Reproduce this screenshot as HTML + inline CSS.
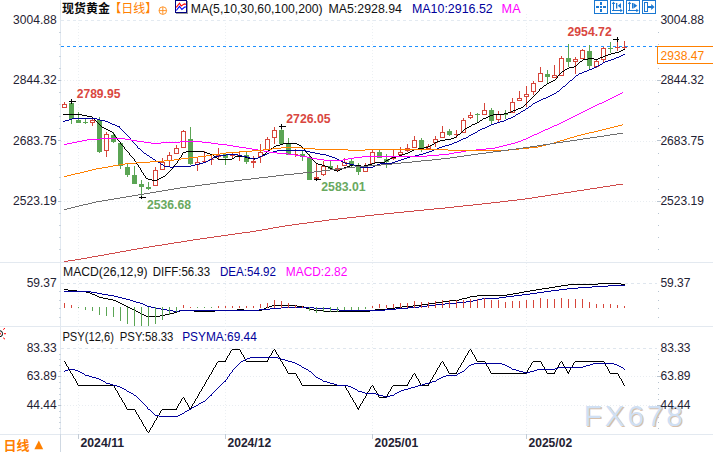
<!DOCTYPE html>
<html lang="zh"><head><meta charset="utf-8"><title>chart</title>
<style>html,body{margin:0;padding:0;background:#fff;}body{width:713px;height:452px;overflow:hidden;font-family:"Liberation Sans",sans-serif;}</style>
</head><body>
<svg width="713" height="452" viewBox="0 0 713 452" style="display:block;font-family:'Liberation Sans',sans-serif">
<rect width="713" height="452" fill="#fff"/>
<g shape-rendering="crispEdges" fill="none">
<path d="M60.5 0V434" stroke="#e1e8f0"/>
<path d="M0 262.5H713" stroke="#e3e9f0"/>
<path d="M0 326.5H713" stroke="#e3e9f0"/>
<path d="M0 434.5H713" stroke="#e3e9f0"/>
<path d="M60.5 434V452" stroke="#cfd8e2"/>
<path d="M61 20.5H657" stroke="#e3eaf1" stroke-dasharray="3 3"/>
<path d="M61 80.5H657" stroke="#e9edf1" stroke-dasharray="1 2"/>
<path d="M61 141.5H657" stroke="#e9edf1" stroke-dasharray="1 2"/>
<path d="M61 201.5H657" stroke="#e9edf1" stroke-dasharray="1 2"/>
<path d="M61 283.5H657" stroke="#dfe6ee" stroke-dasharray="3 3"/>
<path d="M61 348.5H657" stroke="#dfe6ee" stroke-dasharray="3 3"/>
<path d="M61 376.5H657" stroke="#e9edf1" stroke-dasharray="1 2"/>
<path d="M61 405.5H657" stroke="#e9edf1" stroke-dasharray="1 2"/>
<path d="M78.5 14V434" stroke="#ecf0f3" stroke-dasharray="1 2"/>
<path d="M78.5 434V439" stroke="#c3ccd6"/>
<path d="M225.5 14V434" stroke="#ecf0f3" stroke-dasharray="1 2"/>
<path d="M225.5 434V439" stroke="#c3ccd6"/>
<path d="M372.5 14V434" stroke="#ecf0f3" stroke-dasharray="1 2"/>
<path d="M372.5 434V439" stroke="#c3ccd6"/>
<path d="M526.5 14V434" stroke="#ecf0f3" stroke-dasharray="1 2"/>
<path d="M526.5 434V439" stroke="#c3ccd6"/>
<path d="M59 32.5H61" stroke="#c9d3dd"/>
<path d="M658 32.5H659" stroke="#b8c4d0"/>
<path d="M59 44.5H61" stroke="#c9d3dd"/>
<path d="M658 44.5H659" stroke="#b8c4d0"/>
<path d="M59 56.5H61" stroke="#c9d3dd"/>
<path d="M658 56.5H659" stroke="#b8c4d0"/>
<path d="M59 68.5H61" stroke="#c9d3dd"/>
<path d="M658 68.5H659" stroke="#b8c4d0"/>
<path d="M58 80.5H61" stroke="#b8c4d0"/>
<path d="M657 80.5H661" stroke="#b8c4d0"/>
<path d="M59 92.5H61" stroke="#c9d3dd"/>
<path d="M658 92.5H659" stroke="#b8c4d0"/>
<path d="M59 104.5H61" stroke="#c9d3dd"/>
<path d="M658 104.5H659" stroke="#b8c4d0"/>
<path d="M59 116.5H61" stroke="#c9d3dd"/>
<path d="M658 116.5H659" stroke="#b8c4d0"/>
<path d="M59 128.5H61" stroke="#c9d3dd"/>
<path d="M658 128.5H659" stroke="#b8c4d0"/>
<path d="M58 140.5H61" stroke="#b8c4d0"/>
<path d="M657 140.5H661" stroke="#b8c4d0"/>
<path d="M59 153.5H61" stroke="#c9d3dd"/>
<path d="M658 153.5H659" stroke="#b8c4d0"/>
<path d="M59 165.5H61" stroke="#c9d3dd"/>
<path d="M658 165.5H659" stroke="#b8c4d0"/>
<path d="M59 177.5H61" stroke="#c9d3dd"/>
<path d="M658 177.5H659" stroke="#b8c4d0"/>
<path d="M59 189.5H61" stroke="#c9d3dd"/>
<path d="M658 189.5H659" stroke="#b8c4d0"/>
<path d="M58 201.5H61" stroke="#b8c4d0"/>
<path d="M657 201.5H661" stroke="#b8c4d0"/>
<path d="M59 213.5H61" stroke="#c9d3dd"/>
<path d="M658 213.5H659" stroke="#b8c4d0"/>
<path d="M59 225.5H61" stroke="#c9d3dd"/>
<path d="M658 225.5H659" stroke="#b8c4d0"/>
<path d="M59 237.5H61" stroke="#c9d3dd"/>
<path d="M658 237.5H659" stroke="#b8c4d0"/>
<path d="M59 249.5H61" stroke="#c9d3dd"/>
<path d="M658 249.5H659" stroke="#b8c4d0"/>
<path d="M59 291.5H61" stroke="#c9d3dd"/>
<path d="M658 291.5H659" stroke="#b8c4d0"/>
<path d="M59 300.5H61" stroke="#c9d3dd"/>
<path d="M658 300.5H659" stroke="#b8c4d0"/>
<path d="M59 308.5H61" stroke="#c9d3dd"/>
<path d="M658 308.5H659" stroke="#b8c4d0"/>
<path d="M59 317.5H61" stroke="#c9d3dd"/>
<path d="M658 317.5H659" stroke="#b8c4d0"/>
<path d="M59 354.5H61" stroke="#c9d3dd"/>
<path d="M658 354.5H659" stroke="#b8c4d0"/>
<path d="M59 359.5H61" stroke="#c9d3dd"/>
<path d="M658 359.5H659" stroke="#b8c4d0"/>
<path d="M59 365.5H61" stroke="#c9d3dd"/>
<path d="M658 365.5H659" stroke="#b8c4d0"/>
<path d="M59 371.5H61" stroke="#c9d3dd"/>
<path d="M658 371.5H659" stroke="#b8c4d0"/>
<path d="M58 376.5H61" stroke="#b8c4d0"/>
<path d="M657 376.5H661" stroke="#b8c4d0"/>
<path d="M59 382.5H61" stroke="#c9d3dd"/>
<path d="M658 382.5H659" stroke="#b8c4d0"/>
<path d="M59 388.5H61" stroke="#c9d3dd"/>
<path d="M658 388.5H659" stroke="#b8c4d0"/>
<path d="M59 394.5H61" stroke="#c9d3dd"/>
<path d="M658 394.5H659" stroke="#b8c4d0"/>
<path d="M59 399.5H61" stroke="#c9d3dd"/>
<path d="M658 399.5H659" stroke="#b8c4d0"/>
<path d="M58 405.5H61" stroke="#b8c4d0"/>
<path d="M657 405.5H661" stroke="#b8c4d0"/>
<path d="M59 411.5H61" stroke="#c9d3dd"/>
<path d="M658 411.5H659" stroke="#b8c4d0"/>
<path d="M59 417.5H61" stroke="#c9d3dd"/>
<path d="M658 417.5H659" stroke="#b8c4d0"/>
<path d="M59 422.5H61" stroke="#c9d3dd"/>
<path d="M658 422.5H659" stroke="#b8c4d0"/>
<path d="M59 428.5H61" stroke="#c9d3dd"/>
<path d="M658 428.5H659" stroke="#b8c4d0"/>
</g>
<path d="M61 46.5H657" stroke="#1e90ff" stroke-dasharray="3 3" shape-rendering="crispEdges" fill="none"/>
<g shape-rendering="crispEdges">
<rect x="64" y="102" width="1" height="2" fill="#d6453a"/>
<rect x="62.5" y="104.5" width="4" height="3" fill="#fff" stroke="#d6453a"/>
<rect x="71" y="101" width="1" height="23" fill="#5ba554"/>
<rect x="69" y="103" width="5" height="16" fill="#5ba554"/>
<rect x="78" y="112" width="1" height="11" fill="#5ba554"/>
<rect x="76" y="120" width="5" height="3" fill="#5ba554"/>
<rect x="85" y="118" width="1" height="6" fill="#5ba554"/>
<rect x="83" y="122" width="5" height="1" fill="#5ba554"/>
<rect x="92" y="119" width="1" height="1" fill="#d6453a"/>
<rect x="92" y="123" width="1" height="3" fill="#d6453a"/>
<rect x="90.5" y="120.5" width="4" height="2" fill="#fff" stroke="#d6453a"/>
<rect x="99" y="117" width="1" height="36" fill="#5ba554"/>
<rect x="97" y="120" width="5" height="32" fill="#5ba554"/>
<rect x="106" y="132" width="1" height="2" fill="#d6453a"/>
<rect x="106" y="151" width="1" height="6" fill="#d6453a"/>
<rect x="104.5" y="134.5" width="4" height="16" fill="#fff" stroke="#d6453a"/>
<rect x="113" y="132" width="1" height="11" fill="#5ba554"/>
<rect x="111" y="135" width="5" height="7" fill="#5ba554"/>
<rect x="120" y="142" width="1" height="27" fill="#5ba554"/>
<rect x="118" y="143" width="5" height="23" fill="#5ba554"/>
<rect x="127" y="163" width="1" height="14" fill="#5ba554"/>
<rect x="125" y="167" width="5" height="8" fill="#5ba554"/>
<rect x="134" y="166" width="1" height="18" fill="#5ba554"/>
<rect x="132" y="175" width="5" height="9" fill="#5ba554"/>
<rect x="141" y="180" width="1" height="17" fill="#5ba554"/>
<rect x="139" y="184" width="5" height="3" fill="#5ba554"/>
<rect x="148" y="182" width="1" height="8" fill="#5ba554"/>
<rect x="146" y="187" width="5" height="2" fill="#5ba554"/>
<rect x="155" y="167" width="1" height="3" fill="#d6453a"/>
<rect x="153.5" y="170.5" width="4" height="15" fill="#fff" stroke="#d6453a"/>
<rect x="162" y="158" width="1" height="4" fill="#d6453a"/>
<rect x="160.5" y="162.5" width="4" height="7" fill="#fff" stroke="#d6453a"/>
<rect x="169" y="152" width="1" height="3" fill="#d6453a"/>
<rect x="169" y="161" width="1" height="5" fill="#d6453a"/>
<rect x="167.5" y="155.5" width="4" height="5" fill="#fff" stroke="#d6453a"/>
<rect x="176" y="145" width="1" height="3" fill="#d6453a"/>
<rect x="174.5" y="148.5" width="4" height="5" fill="#fff" stroke="#d6453a"/>
<rect x="183" y="130" width="1" height="1" fill="#d6453a"/>
<rect x="181.5" y="131.5" width="4" height="16" fill="#fff" stroke="#d6453a"/>
<rect x="190" y="127" width="1" height="38" fill="#5ba554"/>
<rect x="188" y="139" width="5" height="25" fill="#5ba554"/>
<rect x="197" y="158" width="1" height="4" fill="#d6453a"/>
<rect x="197" y="165" width="1" height="6" fill="#d6453a"/>
<rect x="195.5" y="162.5" width="4" height="2" fill="#fff" stroke="#d6453a"/>
<rect x="204" y="151" width="1" height="10" fill="#d6453a"/>
<rect x="202" y="161" width="5" height="1" fill="#d6453a"/>
<rect x="211" y="155" width="1" height="4" fill="#d6453a"/>
<rect x="211" y="160" width="1" height="5" fill="#d6453a"/>
<rect x="209" y="159" width="5" height="1" fill="#d6453a"/>
<rect x="218" y="148" width="1" height="7" fill="#d6453a"/>
<rect x="218" y="157" width="1" height="2" fill="#d6453a"/>
<rect x="216.5" y="155.5" width="4" height="1" fill="#fff" stroke="#d6453a"/>
<rect x="225" y="153" width="1" height="12" fill="#5ba554"/>
<rect x="223" y="154" width="5" height="4" fill="#5ba554"/>
<rect x="232" y="152" width="1" height="3" fill="#d6453a"/>
<rect x="232" y="156" width="1" height="2" fill="#d6453a"/>
<rect x="230" y="155" width="5" height="1" fill="#d6453a"/>
<rect x="239" y="151" width="1" height="4" fill="#d6453a"/>
<rect x="239" y="157" width="1" height="4" fill="#d6453a"/>
<rect x="237.5" y="155.5" width="4" height="1" fill="#fff" stroke="#d6453a"/>
<rect x="246" y="152" width="1" height="12" fill="#5ba554"/>
<rect x="244" y="155" width="5" height="7" fill="#5ba554"/>
<rect x="253" y="156" width="1" height="5" fill="#d6453a"/>
<rect x="253" y="163" width="1" height="5" fill="#d6453a"/>
<rect x="251.5" y="161.5" width="4" height="1" fill="#fff" stroke="#d6453a"/>
<rect x="260" y="144" width="1" height="8" fill="#d6453a"/>
<rect x="260" y="157" width="1" height="6" fill="#d6453a"/>
<rect x="258.5" y="152.5" width="4" height="4" fill="#fff" stroke="#d6453a"/>
<rect x="267" y="137" width="1" height="2" fill="#d6453a"/>
<rect x="265.5" y="139.5" width="4" height="10" fill="#fff" stroke="#d6453a"/>
<rect x="274" y="127" width="1" height="3" fill="#d6453a"/>
<rect x="274" y="138" width="1" height="6" fill="#d6453a"/>
<rect x="272.5" y="130.5" width="4" height="7" fill="#fff" stroke="#d6453a"/>
<rect x="281" y="126" width="1" height="18" fill="#5ba554"/>
<rect x="279" y="130" width="5" height="14" fill="#5ba554"/>
<rect x="288" y="138" width="1" height="17" fill="#5ba554"/>
<rect x="286" y="144" width="5" height="11" fill="#5ba554"/>
<rect x="295" y="149" width="1" height="5" fill="#d6453a"/>
<rect x="295" y="155" width="1" height="2" fill="#d6453a"/>
<rect x="293" y="154" width="5" height="1" fill="#d6453a"/>
<rect x="302" y="150" width="1" height="11" fill="#5ba554"/>
<rect x="300" y="154" width="5" height="3" fill="#5ba554"/>
<rect x="309" y="154" width="1" height="26" fill="#5ba554"/>
<rect x="307" y="157" width="5" height="23" fill="#5ba554"/>
<rect x="316" y="164" width="1" height="13" fill="#d6453a"/>
<rect x="316" y="179" width="1" height="1" fill="#d6453a"/>
<rect x="314.5" y="177.5" width="4" height="1" fill="#fff" stroke="#d6453a"/>
<rect x="323" y="161" width="1" height="5" fill="#d6453a"/>
<rect x="323" y="175" width="1" height="1" fill="#d6453a"/>
<rect x="321.5" y="166.5" width="4" height="8" fill="#fff" stroke="#d6453a"/>
<rect x="330" y="161" width="1" height="8" fill="#5ba554"/>
<rect x="328" y="166" width="5" height="3" fill="#5ba554"/>
<rect x="337" y="165" width="1" height="3" fill="#d6453a"/>
<rect x="337" y="170" width="1" height="1" fill="#d6453a"/>
<rect x="335.5" y="168.5" width="4" height="1" fill="#fff" stroke="#d6453a"/>
<rect x="344" y="158" width="1" height="4" fill="#d6453a"/>
<rect x="342.5" y="162.5" width="4" height="3" fill="#fff" stroke="#d6453a"/>
<rect x="351" y="159" width="1" height="9" fill="#5ba554"/>
<rect x="349" y="161" width="5" height="5" fill="#5ba554"/>
<rect x="358" y="163" width="1" height="12" fill="#5ba554"/>
<rect x="356" y="166" width="5" height="6" fill="#5ba554"/>
<rect x="365" y="163" width="1" height="3" fill="#d6453a"/>
<rect x="363.5" y="166.5" width="4" height="5" fill="#fff" stroke="#d6453a"/>
<rect x="372" y="150" width="1" height="2" fill="#d6453a"/>
<rect x="370.5" y="152.5" width="4" height="11" fill="#fff" stroke="#d6453a"/>
<rect x="379" y="149" width="1" height="9" fill="#5ba554"/>
<rect x="377" y="152" width="5" height="6" fill="#5ba554"/>
<rect x="386" y="154" width="1" height="14" fill="#5ba554"/>
<rect x="384" y="159" width="5" height="3" fill="#5ba554"/>
<rect x="393" y="149" width="1" height="8" fill="#d6453a"/>
<rect x="393" y="159" width="1" height="1" fill="#d6453a"/>
<rect x="391.5" y="157.5" width="4" height="1" fill="#fff" stroke="#d6453a"/>
<rect x="400" y="147" width="1" height="5" fill="#d6453a"/>
<rect x="398.5" y="152.5" width="4" height="2" fill="#fff" stroke="#d6453a"/>
<rect x="407" y="144" width="1" height="4" fill="#d6453a"/>
<rect x="407" y="151" width="1" height="1" fill="#d6453a"/>
<rect x="405.5" y="148.5" width="4" height="2" fill="#fff" stroke="#d6453a"/>
<rect x="414" y="136" width="1" height="4" fill="#d6453a"/>
<rect x="412.5" y="140.5" width="4" height="7" fill="#fff" stroke="#d6453a"/>
<rect x="421" y="138" width="1" height="14" fill="#5ba554"/>
<rect x="419" y="140" width="5" height="8" fill="#5ba554"/>
<rect x="428" y="144" width="1" height="2" fill="#d6453a"/>
<rect x="426.5" y="146.5" width="4" height="2" fill="#fff" stroke="#d6453a"/>
<rect x="435" y="136" width="1" height="3" fill="#d6453a"/>
<rect x="435" y="143" width="1" height="4" fill="#d6453a"/>
<rect x="433.5" y="139.5" width="4" height="3" fill="#fff" stroke="#d6453a"/>
<rect x="442" y="126" width="1" height="6" fill="#d6453a"/>
<rect x="440.5" y="132.5" width="4" height="5" fill="#fff" stroke="#d6453a"/>
<rect x="449" y="129" width="1" height="7" fill="#5ba554"/>
<rect x="447" y="131" width="5" height="4" fill="#5ba554"/>
<rect x="456" y="130" width="1" height="4" fill="#d6453a"/>
<rect x="456" y="135" width="1" height="3" fill="#d6453a"/>
<rect x="454" y="134" width="5" height="1" fill="#d6453a"/>
<rect x="463" y="118" width="1" height="2" fill="#d6453a"/>
<rect x="461.5" y="120.5" width="4" height="12" fill="#fff" stroke="#d6453a"/>
<rect x="470" y="112" width="1" height="3" fill="#d6453a"/>
<rect x="470" y="118" width="1" height="1" fill="#d6453a"/>
<rect x="468.5" y="115.5" width="4" height="2" fill="#fff" stroke="#d6453a"/>
<rect x="477" y="113" width="1" height="9" fill="#5ba554"/>
<rect x="475" y="114" width="5" height="1" fill="#5ba554"/>
<rect x="484" y="103" width="1" height="7" fill="#d6453a"/>
<rect x="482.5" y="110.5" width="4" height="4" fill="#fff" stroke="#d6453a"/>
<rect x="491" y="108" width="1" height="16" fill="#5ba554"/>
<rect x="489" y="110" width="5" height="11" fill="#5ba554"/>
<rect x="498" y="111" width="1" height="3" fill="#d6453a"/>
<rect x="498" y="120" width="1" height="2" fill="#d6453a"/>
<rect x="496.5" y="114.5" width="4" height="5" fill="#fff" stroke="#d6453a"/>
<rect x="505" y="110" width="1" height="9" fill="#5ba554"/>
<rect x="503" y="114" width="5" height="1" fill="#5ba554"/>
<rect x="512" y="98" width="1" height="4" fill="#d6453a"/>
<rect x="510.5" y="102.5" width="4" height="10" fill="#fff" stroke="#d6453a"/>
<rect x="519" y="91" width="1" height="7" fill="#d6453a"/>
<rect x="517.5" y="98.5" width="4" height="2" fill="#fff" stroke="#d6453a"/>
<rect x="526" y="86" width="1" height="8" fill="#d6453a"/>
<rect x="526" y="97" width="1" height="10" fill="#d6453a"/>
<rect x="524.5" y="94.5" width="4" height="2" fill="#fff" stroke="#d6453a"/>
<rect x="533" y="81" width="1" height="2" fill="#d6453a"/>
<rect x="533" y="92" width="1" height="3" fill="#d6453a"/>
<rect x="531.5" y="83.5" width="4" height="8" fill="#fff" stroke="#d6453a"/>
<rect x="540" y="67" width="1" height="6" fill="#d6453a"/>
<rect x="538.5" y="73.5" width="4" height="8" fill="#fff" stroke="#d6453a"/>
<rect x="547" y="70" width="1" height="14" fill="#5ba554"/>
<rect x="545" y="74" width="5" height="3" fill="#5ba554"/>
<rect x="554" y="65" width="1" height="10" fill="#d6453a"/>
<rect x="552.5" y="75.5" width="4" height="2" fill="#fff" stroke="#d6453a"/>
<rect x="561" y="56" width="1" height="2" fill="#d6453a"/>
<rect x="559.5" y="58.5" width="4" height="17" fill="#fff" stroke="#d6453a"/>
<rect x="568" y="44" width="1" height="23" fill="#5ba554"/>
<rect x="566" y="58" width="5" height="4" fill="#5ba554"/>
<rect x="575" y="57" width="1" height="2" fill="#d6453a"/>
<rect x="575" y="62" width="1" height="12" fill="#d6453a"/>
<rect x="573.5" y="59.5" width="4" height="2" fill="#fff" stroke="#d6453a"/>
<rect x="582" y="49" width="1" height="1" fill="#d6453a"/>
<rect x="580.5" y="50.5" width="4" height="8" fill="#fff" stroke="#d6453a"/>
<rect x="589" y="45" width="1" height="24" fill="#5ba554"/>
<rect x="587" y="51" width="5" height="15" fill="#5ba554"/>
<rect x="596" y="60" width="1" height="1" fill="#d6453a"/>
<rect x="596" y="67" width="1" height="1" fill="#d6453a"/>
<rect x="594.5" y="61.5" width="4" height="5" fill="#fff" stroke="#d6453a"/>
<rect x="603" y="47" width="1" height="1" fill="#d6453a"/>
<rect x="603" y="60" width="1" height="2" fill="#d6453a"/>
<rect x="601.5" y="48.5" width="4" height="11" fill="#fff" stroke="#d6453a"/>
<rect x="610" y="42" width="1" height="11" fill="#5ba554"/>
<rect x="608" y="48" width="5" height="1" fill="#5ba554"/>
<rect x="617" y="39" width="1" height="8" fill="#d6453a"/>
<rect x="617" y="48" width="1" height="3" fill="#d6453a"/>
<rect x="615" y="47" width="5" height="1" fill="#d6453a"/>
<rect x="624" y="41" width="1" height="6" fill="#d6453a"/>
<rect x="624" y="48" width="1" height="2" fill="#d6453a"/>
<rect x="622" y="47" width="5" height="1" fill="#d6453a"/>
</g>
<path d="M623 49h2v1h-2zM621 50h2v1h-2zM619 51h2v1h-2zM615 52h4v1h-4zM611 53h4v1h-4zM608 54h3v1h-3zM605 55h3v1h-3zM603 56h2v1h-2zM600 57h3v1h-3zM588 58h6v1h-6zM598 58h2v1h-2zM583 59h5v1h-5zM594 59h4v1h-4zM582 60h1v1h-1zM580 61h2v1h-2zM579 62h1v1h-1zM578 63h1v1h-1zM577 64h1v1h-1zM576 65h1v1h-1zM574 66h2v1h-2zM569 67h5v1h-5zM567 68h2v1h-2zM565 69h2v1h-2zM564 70h1v1h-1zM562 71h2v1h-2zM561 72h1v1h-1zM560 73h1v1h-1zM559 74h1v1h-1zM558 75h1v1h-1zM557 76h1v1h-1zM557 77h1v1h-1zM556 78h1v1h-1zM555 79h1v1h-1zM553 80h2v1h-2zM551 81h2v1h-2zM549 82h2v1h-2zM547 83h2v1h-2zM546 84h1v1h-1zM544 85h2v1h-2zM543 86h1v1h-1zM542 87h1v1h-1zM540 88h2v1h-2zM539 89h1v1h-1zM539 90h1v1h-1zM538 91h1v1h-1zM537 92h1v1h-1zM536 93h1v1h-1zM535 94h1v1h-1zM534 95h1v1h-1zM533 96h1v1h-1zM532 97h1v1h-1zM531 98h1v1h-1zM530 99h1v1h-1zM529 100h1v1h-1zM528 101h1v1h-1zM527 102h1v1h-1zM526 103h1v1h-1zM525 104h1v1h-1zM524 105h1v1h-1zM523 106h1v1h-1zM521 107h2v1h-2zM518 108h3v1h-3zM516 109h2v1h-2zM513 110h3v1h-3zM511 111h2v1h-2zM508 112h3v1h-3zM504 113h4v1h-4zM63 114h19v1h-19zM493 114h11v1h-11zM82 115h5v1h-5zM490 115h3v1h-3zM87 116h5v1h-5zM488 116h2v1h-2zM92 117h1v1h-1zM486 117h2v1h-2zM93 118h1v1h-1zM483 118h3v1h-3zM94 119h1v1h-1zM482 119h1v1h-1zM95 120h1v1h-1zM480 120h2v1h-2zM96 121h1v1h-1zM479 121h1v1h-1zM97 122h1v1h-1zM477 122h2v1h-2zM98 123h1v1h-1zM475 123h2v1h-2zM99 124h1v1h-1zM472 124h3v1h-3zM100 125h1v1h-1zM471 125h1v1h-1zM101 126h1v1h-1zM469 126h2v1h-2zM102 127h2v1h-2zM467 127h2v1h-2zM104 128h2v1h-2zM465 128h2v1h-2zM106 129h2v1h-2zM464 129h1v1h-1zM108 130h2v1h-2zM463 130h1v1h-1zM110 131h2v1h-2zM462 131h1v1h-1zM112 132h1v1h-1zM461 132h1v1h-1zM113 133h1v1h-1zM460 133h1v1h-1zM114 134h1v1h-1zM458 134h2v1h-2zM114 135h1v1h-1zM457 135h1v1h-1zM115 136h1v1h-1zM456 136h1v1h-1zM116 137h1v1h-1zM454 137h2v1h-2zM117 138h1v1h-1zM451 138h3v1h-3zM117 139h1v1h-1zM445 139h6v1h-6zM118 140h1v1h-1zM440 140h5v1h-5zM119 141h1v1h-1zM437 141h3v1h-3zM120 142h1v1h-1zM435 142h2v1h-2zM120 143h1v1h-1zM283 143h14v1h-14zM434 143h1v1h-1zM121 144h1v1h-1zM280 144h3v1h-3zM297 144h2v1h-2zM432 144h2v1h-2zM122 145h1v1h-1zM276 145h4v1h-4zM299 145h2v1h-2zM430 145h2v1h-2zM123 146h1v1h-1zM274 146h2v1h-2zM301 146h1v1h-1zM428 146h2v1h-2zM124 147h1v1h-1zM273 147h1v1h-1zM302 147h1v1h-1zM424 147h4v1h-4zM124 148h1v1h-1zM271 148h2v1h-2zM303 148h1v1h-1zM418 148h6v1h-6zM125 149h1v1h-1zM270 149h1v1h-1zM304 149h1v1h-1zM414 149h4v1h-4zM126 150h1v1h-1zM268 150h2v1h-2zM305 150h1v1h-1zM412 150h2v1h-2zM127 151h1v1h-1zM186 151h18v1h-18zM267 151h1v1h-1zM305 151h1v1h-1zM410 151h2v1h-2zM128 152h1v1h-1zM183 152h3v1h-3zM204 152h3v1h-3zM266 152h1v1h-1zM306 152h1v1h-1zM408 152h2v1h-2zM129 153h1v1h-1zM182 153h1v1h-1zM207 153h3v1h-3zM265 153h1v1h-1zM307 153h1v1h-1zM405 153h3v1h-3zM129 154h1v1h-1zM182 154h1v1h-1zM210 154h3v1h-3zM263 154h2v1h-2zM308 154h1v1h-1zM402 154h3v1h-3zM130 155h1v1h-1zM181 155h1v1h-1zM213 155h1v1h-1zM262 155h1v1h-1zM309 155h1v1h-1zM399 155h3v1h-3zM131 156h1v1h-1zM181 156h1v1h-1zM214 156h1v1h-1zM235 156h10v1h-10zM260 156h2v1h-2zM310 156h1v1h-1zM396 156h3v1h-3zM132 157h1v1h-1zM180 157h1v1h-1zM215 157h2v1h-2zM234 157h1v1h-1zM245 157h3v1h-3zM258 157h2v1h-2zM311 157h1v1h-1zM392 157h4v1h-4zM133 158h1v1h-1zM179 158h1v1h-1zM217 158h1v1h-1zM232 158h2v1h-2zM248 158h10v1h-10zM312 158h1v1h-1zM390 158h2v1h-2zM134 159h1v1h-1zM179 159h1v1h-1zM218 159h14v1h-14zM312 159h1v1h-1zM388 159h2v1h-2zM134 160h1v1h-1zM178 160h1v1h-1zM313 160h1v1h-1zM386 160h2v1h-2zM135 161h1v1h-1zM177 161h1v1h-1zM314 161h1v1h-1zM385 161h1v1h-1zM136 162h1v1h-1zM177 162h1v1h-1zM315 162h1v1h-1zM375 162h10v1h-10zM136 163h1v1h-1zM176 163h1v1h-1zM316 163h2v1h-2zM372 163h3v1h-3zM137 164h1v1h-1zM175 164h1v1h-1zM318 164h4v1h-4zM353 164h1v1h-1zM368 164h4v1h-4zM138 165h1v1h-1zM174 165h1v1h-1zM322 165h3v1h-3zM350 165h3v1h-3zM354 165h7v1h-7zM364 165h4v1h-4zM138 166h1v1h-1zM173 166h1v1h-1zM325 166h3v1h-3zM347 166h3v1h-3zM361 166h3v1h-3zM139 167h1v1h-1zM172 167h1v1h-1zM328 167h2v1h-2zM344 167h3v1h-3zM140 168h1v1h-1zM172 168h1v1h-1zM330 168h2v1h-2zM342 168h2v1h-2zM140 169h1v1h-1zM171 169h1v1h-1zM332 169h2v1h-2zM340 169h2v1h-2zM141 170h1v1h-1zM170 170h1v1h-1zM334 170h3v1h-3zM338 170h2v1h-2zM141 171h1v1h-1zM169 171h1v1h-1zM337 171h1v1h-1zM142 172h1v1h-1zM168 172h1v1h-1zM143 173h1v1h-1zM167 173h1v1h-1zM143 174h1v1h-1zM166 174h1v1h-1zM144 175h1v1h-1zM165 175h1v1h-1zM145 176h1v1h-1zM163 176h2v1h-2zM145 177h1v1h-1zM161 177h2v1h-2zM146 178h2v1h-2zM159 178h2v1h-2zM148 179h4v1h-4zM157 179h2v1h-2zM152 180h5v1h-5z" fill="#000" shape-rendering="crispEdges"/>
<path d="M623 54h2v1h-2zM621 55h2v1h-2zM619 56h2v1h-2zM616 57h3v1h-3zM614 58h2v1h-2zM611 59h3v1h-3zM608 60h3v1h-3zM605 61h3v1h-3zM603 62h2v1h-2zM602 63h1v1h-1zM600 64h2v1h-2zM598 65h2v1h-2zM596 66h2v1h-2zM594 67h2v1h-2zM592 68h2v1h-2zM589 69h3v1h-3zM587 70h2v1h-2zM584 71h3v1h-3zM582 72h2v1h-2zM579 73h3v1h-3zM578 74h1v1h-1zM576 75h2v1h-2zM575 76h1v1h-1zM574 77h1v1h-1zM573 78h1v1h-1zM572 79h1v1h-1zM570 80h2v1h-2zM569 81h1v1h-1zM568 82h1v1h-1zM567 83h1v1h-1zM566 84h1v1h-1zM565 85h1v1h-1zM563 86h2v1h-2zM562 87h1v1h-1zM561 88h1v1h-1zM560 89h1v1h-1zM559 90h1v1h-1zM557 91h2v1h-2zM556 92h1v1h-1zM554 93h2v1h-2zM552 94h2v1h-2zM550 95h2v1h-2zM548 96h2v1h-2zM546 97h2v1h-2zM543 98h3v1h-3zM541 99h2v1h-2zM539 100h2v1h-2zM537 101h2v1h-2zM535 102h2v1h-2zM533 103h2v1h-2zM532 104h1v1h-1zM531 105h1v1h-1zM529 106h2v1h-2zM528 107h1v1h-1zM526 108h2v1h-2zM525 109h1v1h-1zM523 110h2v1h-2zM521 111h2v1h-2zM520 112h1v1h-1zM518 113h2v1h-2zM516 114h2v1h-2zM515 115h1v1h-1zM513 116h2v1h-2zM511 117h2v1h-2zM72 118h25v1h-25zM508 118h3v1h-3zM69 119h3v1h-3zM97 119h3v1h-3zM506 119h2v1h-2zM65 120h4v1h-4zM100 120h5v1h-5zM504 120h2v1h-2zM63 121h2v1h-2zM105 121h3v1h-3zM500 121h4v1h-4zM108 122h2v1h-2zM497 122h3v1h-3zM110 123h2v1h-2zM494 123h3v1h-3zM112 124h3v1h-3zM491 124h3v1h-3zM115 125h2v1h-2zM489 125h2v1h-2zM117 126h3v1h-3zM487 126h2v1h-2zM119 127h1v1h-1zM485 127h2v1h-2zM120 128h1v1h-1zM482 128h3v1h-3zM121 129h1v1h-1zM480 129h2v1h-2zM122 130h1v1h-1zM478 130h2v1h-2zM123 131h1v1h-1zM477 131h1v1h-1zM124 132h1v1h-1zM475 132h2v1h-2zM125 133h1v1h-1zM473 133h2v1h-2zM126 134h1v1h-1zM471 134h2v1h-2zM127 135h1v1h-1zM469 135h2v1h-2zM128 136h1v1h-1zM468 136h1v1h-1zM129 137h1v1h-1zM466 137h2v1h-2zM130 138h1v1h-1zM463 138h3v1h-3zM130 139h1v1h-1zM461 139h2v1h-2zM131 140h1v1h-1zM459 140h2v1h-2zM132 141h1v1h-1zM457 141h2v1h-2zM133 142h1v1h-1zM454 142h3v1h-3zM134 143h1v1h-1zM452 143h2v1h-2zM135 144h1v1h-1zM449 144h3v1h-3zM136 145h1v1h-1zM445 145h4v1h-4zM137 146h1v1h-1zM442 146h3v1h-3zM137 147h1v1h-1zM439 147h3v1h-3zM138 148h2v1h-2zM437 148h2v1h-2zM140 149h1v1h-1zM434 149h3v1h-3zM141 150h1v1h-1zM277 150h29v1h-29zM432 150h2v1h-2zM142 151h1v1h-1zM273 151h4v1h-4zM306 151h4v1h-4zM429 151h3v1h-3zM143 152h1v1h-1zM269 152h4v1h-4zM310 152h5v1h-5zM426 152h3v1h-3zM144 153h2v1h-2zM267 153h2v1h-2zM315 153h5v1h-5zM423 153h3v1h-3zM146 154h1v1h-1zM226 154h12v1h-12zM265 154h2v1h-2zM320 154h6v1h-6zM419 154h4v1h-4zM147 155h2v1h-2zM219 155h7v1h-7zM238 155h4v1h-4zM262 155h3v1h-3zM326 155h3v1h-3zM415 155h4v1h-4zM149 156h1v1h-1zM215 156h4v1h-4zM242 156h5v1h-5zM260 156h2v1h-2zM329 156h3v1h-3zM410 156h5v1h-5zM150 157h2v1h-2zM213 157h2v1h-2zM247 157h3v1h-3zM258 157h2v1h-2zM332 157h3v1h-3zM407 157h3v1h-3zM152 158h1v1h-1zM212 158h1v1h-1zM250 158h4v1h-4zM255 158h3v1h-3zM335 158h2v1h-2zM404 158h3v1h-3zM153 159h2v1h-2zM210 159h2v1h-2zM254 159h1v1h-1zM337 159h2v1h-2zM401 159h3v1h-3zM155 160h1v1h-1zM208 160h2v1h-2zM339 160h2v1h-2zM398 160h3v1h-3zM156 161h2v1h-2zM206 161h2v1h-2zM341 161h2v1h-2zM395 161h3v1h-3zM158 162h2v1h-2zM203 162h3v1h-3zM343 162h2v1h-2zM392 162h3v1h-3zM160 163h1v1h-1zM199 163h4v1h-4zM345 163h5v1h-5zM380 163h12v1h-12zM161 164h2v1h-2zM195 164h4v1h-4zM350 164h4v1h-4zM377 164h3v1h-3zM163 165h1v1h-1zM191 165h4v1h-4zM354 165h2v1h-2zM375 165h2v1h-2zM164 166h6v1h-6zM174 166h17v1h-17zM356 166h4v1h-4zM373 166h2v1h-2zM170 167h4v1h-4zM360 167h13v1h-13z" fill="#00009b" shape-rendering="crispEdges"/>
<path d="M622 92h1v1h-1zM620 93h2v1h-2zM618 94h2v1h-2zM616 95h2v1h-2zM614 96h2v1h-2zM612 97h2v1h-2zM610 98h2v1h-2zM608 99h2v1h-2zM606 100h2v1h-2zM604 101h2v1h-2zM602 102h2v1h-2zM599 103h3v1h-3zM597 104h2v1h-2zM595 105h2v1h-2zM593 106h2v1h-2zM591 107h2v1h-2zM589 108h2v1h-2zM587 109h2v1h-2zM585 110h2v1h-2zM583 111h2v1h-2zM581 112h2v1h-2zM579 113h2v1h-2zM577 114h2v1h-2zM575 115h2v1h-2zM573 116h2v1h-2zM571 117h2v1h-2zM569 118h2v1h-2zM567 119h2v1h-2zM565 120h2v1h-2zM563 121h2v1h-2zM561 122h2v1h-2zM559 123h2v1h-2zM557 124h2v1h-2zM554 125h3v1h-3zM552 126h2v1h-2zM550 127h2v1h-2zM548 128h2v1h-2zM545 129h3v1h-3zM543 130h2v1h-2zM541 131h2v1h-2zM539 132h2v1h-2zM537 133h2v1h-2zM534 134h3v1h-3zM532 135h2v1h-2zM530 136h2v1h-2zM528 137h2v1h-2zM100 138h25v1h-25zM526 138h2v1h-2zM87 139h13v1h-13zM125 139h6v1h-6zM523 139h3v1h-3zM82 140h5v1h-5zM131 140h6v1h-6zM521 140h2v1h-2zM77 141h5v1h-5zM137 141h7v1h-7zM180 141h22v1h-22zM518 141h3v1h-3zM72 142h5v1h-5zM144 142h7v1h-7zM161 142h19v1h-19zM202 142h9v1h-9zM515 142h3v1h-3zM67 143h5v1h-5zM151 143h10v1h-10zM211 143h7v1h-7zM511 143h4v1h-4zM64 144h3v1h-3zM218 144h9v1h-9zM507 144h4v1h-4zM227 145h6v1h-6zM503 145h4v1h-4zM233 146h6v1h-6zM499 146h4v1h-4zM239 147h7v1h-7zM495 147h4v1h-4zM246 148h6v1h-6zM486 148h9v1h-9zM252 149h6v1h-6zM476 149h10v1h-10zM258 150h6v1h-6zM466 150h10v1h-10zM264 151h5v1h-5zM461 151h5v1h-5zM269 152h8v1h-8zM454 152h7v1h-7zM277 153h11v1h-11zM449 153h5v1h-5zM288 154h7v1h-7zM439 154h10v1h-10zM295 155h6v1h-6zM427 155h12v1h-12zM301 156h6v1h-6zM362 156h65v1h-65zM307 157h4v1h-4zM354 157h8v1h-8zM311 158h6v1h-6zM348 158h6v1h-6zM317 159h7v1h-7zM343 159h5v1h-5zM324 160h19v1h-19z" fill="#ff00ff" shape-rendering="crispEdges"/>
<path d="M622 124h1v1h-1zM618 125h4v1h-4zM614 126h4v1h-4zM610 127h4v1h-4zM606 128h4v1h-4zM602 129h4v1h-4zM598 130h4v1h-4zM594 131h4v1h-4zM589 132h5v1h-5zM585 133h4v1h-4zM581 134h4v1h-4zM577 135h4v1h-4zM574 136h3v1h-3zM570 137h4v1h-4zM567 138h3v1h-3zM564 139h3v1h-3zM560 140h4v1h-4zM557 141h3v1h-3zM554 142h3v1h-3zM550 143h4v1h-4zM546 144h4v1h-4zM542 145h4v1h-4zM538 146h4v1h-4zM281 147h21v1h-21zM529 147h9v1h-9zM272 148h9v1h-9zM302 148h13v1h-13zM519 148h10v1h-10zM263 149h9v1h-9zM315 149h33v1h-33zM365 149h83v1h-83zM509 149h10v1h-10zM252 150h11v1h-11zM348 150h17v1h-17zM448 150h61v1h-61zM239 151h13v1h-13zM226 152h13v1h-13zM220 153h6v1h-6zM212 154h8v1h-8zM206 155h6v1h-6zM198 156h8v1h-8zM189 157h9v1h-9zM181 158h8v1h-8zM174 159h7v1h-7zM164 160h10v1h-10zM150 161h14v1h-14zM136 162h14v1h-14zM125 163h11v1h-11zM119 164h6v1h-6zM113 165h6v1h-6zM108 166h5v1h-5zM102 167h6v1h-6zM96 168h6v1h-6zM92 169h4v1h-4zM88 170h4v1h-4zM84 171h4v1h-4zM80 172h4v1h-4zM75 173h5v1h-5zM71 174h4v1h-4zM67 175h4v1h-4zM64 176h3v1h-3z" fill="#ff8000" shape-rendering="crispEdges"/>
<path d="M617 133h6v1h-6zM610 134h7v1h-7zM604 135h6v1h-6zM597 136h7v1h-7zM590 137h7v1h-7zM583 138h7v1h-7zM577 139h6v1h-6zM570 140h7v1h-7zM563 141h7v1h-7zM556 142h7v1h-7zM550 143h6v1h-6zM543 144h7v1h-7zM537 145h6v1h-6zM530 146h7v1h-7zM523 147h7v1h-7zM516 148h7v1h-7zM508 149h8v1h-8zM501 150h7v1h-7zM493 151h8v1h-8zM486 152h7v1h-7zM478 153h8v1h-8zM471 154h7v1h-7zM464 155h7v1h-7zM457 156h7v1h-7zM450 157h7v1h-7zM441 158h9v1h-9zM432 159h9v1h-9zM421 160h11v1h-11zM412 161h9v1h-9zM401 162h11v1h-11zM392 163h9v1h-9zM381 164h11v1h-11zM368 165h13v1h-13zM355 166h13v1h-13zM346 167h9v1h-9zM338 168h8v1h-8zM330 169h8v1h-8zM322 170h8v1h-8zM314 171h8v1h-8zM303 172h11v1h-11zM294 173h9v1h-9zM284 174h10v1h-10zM276 175h8v1h-8zM268 176h8v1h-8zM259 177h9v1h-9zM251 178h8v1h-8zM242 179h9v1h-9zM234 180h8v1h-8zM225 181h9v1h-9zM217 182h8v1h-8zM210 183h7v1h-7zM202 184h8v1h-8zM195 185h7v1h-7zM187 186h8v1h-8zM180 187h7v1h-7zM174 188h6v1h-6zM168 189h6v1h-6zM162 190h6v1h-6zM156 191h6v1h-6zM150 192h6v1h-6zM144 193h6v1h-6zM138 194h6v1h-6zM132 195h6v1h-6zM126 196h6v1h-6zM120 197h6v1h-6zM114 198h6v1h-6zM108 199h6v1h-6zM102 200h6v1h-6zM96 201h6v1h-6zM92 202h4v1h-4zM88 203h4v1h-4zM83 204h5v1h-5zM79 205h4v1h-4zM75 206h4v1h-4zM71 207h4v1h-4zM67 208h4v1h-4zM64 209h3v1h-3z" fill="#6e6e6e" shape-rendering="crispEdges"/>
<path d="M616 184h7v1h-7zM610 185h6v1h-6zM603 186h7v1h-7zM597 187h6v1h-6zM590 188h7v1h-7zM584 189h6v1h-6zM577 190h7v1h-7zM571 191h6v1h-6zM564 192h7v1h-7zM558 193h6v1h-6zM551 194h7v1h-7zM545 195h6v1h-6zM538 196h7v1h-7zM532 197h6v1h-6zM525 198h7v1h-7zM517 199h8v1h-8zM508 200h9v1h-9zM500 201h8v1h-8zM491 202h9v1h-9zM482 203h9v1h-9zM473 204h9v1h-9zM463 205h10v1h-10zM454 206h9v1h-9zM445 207h9v1h-9zM434 208h11v1h-11zM424 209h10v1h-10zM414 210h10v1h-10zM404 211h10v1h-10zM394 212h10v1h-10zM384 213h10v1h-10zM374 214h10v1h-10zM365 215h9v1h-9zM356 216h9v1h-9zM347 217h9v1h-9zM338 218h9v1h-9zM329 219h9v1h-9zM322 220h7v1h-7zM314 221h8v1h-8zM307 222h7v1h-7zM299 223h8v1h-8zM292 224h7v1h-7zM285 225h7v1h-7zM279 226h6v1h-6zM273 227h6v1h-6zM268 228h5v1h-5zM262 229h6v1h-6zM256 230h6v1h-6zM250 231h6v1h-6zM242 232h8v1h-8zM235 233h7v1h-7zM228 234h7v1h-7zM221 235h7v1h-7zM214 236h7v1h-7zM207 237h7v1h-7zM200 238h7v1h-7zM193 239h7v1h-7zM187 240h6v1h-6zM181 241h6v1h-6zM174 242h7v1h-7zM168 243h6v1h-6zM162 244h6v1h-6zM155 245h7v1h-7zM149 246h6v1h-6zM143 247h6v1h-6zM137 248h6v1h-6zM131 249h6v1h-6zM126 250h5v1h-5zM120 251h6v1h-6zM115 252h5v1h-5zM109 253h6v1h-6zM104 254h5v1h-5zM98 255h6v1h-6zM92 256h6v1h-6zM87 257h5v1h-5zM81 258h6v1h-6zM75 259h6v1h-6zM68 260h7v1h-7zM64 261h4v1h-4z" fill="#cf4a4a" shape-rendering="crispEdges"/>
<path d="M69 101.5H76M71.5 99V104" stroke="#000" fill="none" shape-rendering="crispEdges"/>
<path d="M139 197.5H146M141.5 196V199" stroke="#000" fill="none" shape-rendering="crispEdges"/>
<path d="M279 126.5H286M281.5 124V129" stroke="#000" fill="none" shape-rendering="crispEdges"/>
<path d="M314 179.5H321M316.5 178V181" stroke="#000" fill="none" shape-rendering="crispEdges"/>
<path d="M613 39.5H619M617.5 37V42" stroke="#000" fill="none" shape-rendering="crispEdges"/>
<text x="76.7" y="97.9" font-size="12" font-weight="bold" fill="#d9473f" text-anchor="start" textLength="43.7" lengthAdjust="spacingAndGlyphs">2789.95</text>
<text x="286.3" y="123" font-size="12" font-weight="bold" fill="#d9473f" text-anchor="start" textLength="44.3" lengthAdjust="spacingAndGlyphs">2726.05</text>
<text x="567.5" y="35.9" font-size="12" font-weight="bold" fill="#d9473f" text-anchor="start" textLength="44.2" lengthAdjust="spacingAndGlyphs">2954.72</text>
<text x="147" y="209.3" font-size="12" font-weight="bold" fill="#69a95f" text-anchor="start" textLength="44" lengthAdjust="spacingAndGlyphs">2536.68</text>
<text x="321.3" y="191.2" font-size="12" font-weight="bold" fill="#69a95f" text-anchor="start" textLength="44.3" lengthAdjust="spacingAndGlyphs">2583.01</text>
<path d="M598 283h23v1h-23zM568 284h30v1h-30zM621 284h4v1h-4zM561 285h7v1h-7zM555 286h6v1h-6zM549 287h6v1h-6zM542 288h7v1h-7zM64 289h4v1h-4zM536 289h6v1h-6zM68 290h9v1h-9zM530 290h6v1h-6zM77 291h9v1h-9zM524 291h6v1h-6zM86 292h4v1h-4zM519 292h5v1h-5zM90 293h2v1h-2zM513 293h6v1h-6zM92 294h3v1h-3zM507 294h6v1h-6zM95 295h2v1h-2zM477 295h30v1h-30zM97 296h2v1h-2zM470 296h7v1h-7zM99 297h4v1h-4zM467 297h3v1h-3zM103 298h5v1h-5zM462 298h5v1h-5zM108 299h5v1h-5zM459 299h3v1h-3zM113 300h3v1h-3zM450 300h9v1h-9zM116 301h2v1h-2zM443 301h7v1h-7zM118 302h2v1h-2zM435 302h8v1h-8zM120 303h2v1h-2zM429 303h6v1h-6zM122 304h2v1h-2zM422 304h7v1h-7zM124 305h2v1h-2zM272 305h25v1h-25zM413 305h9v1h-9zM126 306h2v1h-2zM269 306h3v1h-3zM297 306h7v1h-7zM402 306h11v1h-11zM128 307h2v1h-2zM266 307h3v1h-3zM304 307h2v1h-2zM395 307h7v1h-7zM130 308h2v1h-2zM264 308h2v1h-2zM306 308h3v1h-3zM387 308h8v1h-8zM132 309h2v1h-2zM237 309h7v1h-7zM262 309h2v1h-2zM309 309h5v1h-5zM375 309h12v1h-12zM134 310h2v1h-2zM180 310h14v1h-14zM215 310h22v1h-22zM244 310h18v1h-18zM314 310h9v1h-9zM370 310h5v1h-5zM136 311h2v1h-2zM177 311h3v1h-3zM194 311h21v1h-21zM323 311h47v1h-47zM138 312h2v1h-2zM174 312h3v1h-3zM140 313h2v1h-2zM170 313h4v1h-4zM142 314h2v1h-2zM165 314h5v1h-5zM144 315h2v1h-2zM160 315h5v1h-5zM146 316h14v1h-14z" fill="#000" shape-rendering="crispEdges"/>
<path d="M608 285h17v1h-17zM592 286h16v1h-16zM578 287h14v1h-14zM567 288h11v1h-11zM559 289h8v1h-8zM551 290h8v1h-8zM64 291h27v1h-27zM544 291h7v1h-7zM91 292h6v1h-6zM537 292h7v1h-7zM97 293h5v1h-5zM530 293h7v1h-7zM102 294h6v1h-6zM522 294h8v1h-8zM108 295h6v1h-6zM514 295h8v1h-8zM114 296h4v1h-4zM506 296h8v1h-8zM118 297h4v1h-4zM499 297h7v1h-7zM122 298h4v1h-4zM482 298h17v1h-17zM126 299h4v1h-4zM478 299h4v1h-4zM130 300h3v1h-3zM473 300h5v1h-5zM133 301h3v1h-3zM466 301h7v1h-7zM136 302h4v1h-4zM457 302h9v1h-9zM140 303h3v1h-3zM445 303h12v1h-12zM143 304h2v1h-2zM435 304h10v1h-10zM145 305h2v1h-2zM427 305h8v1h-8zM147 306h4v1h-4zM419 306h8v1h-8zM151 307h5v1h-5zM281 307h33v1h-33zM408 307h11v1h-11zM156 308h5v1h-5zM270 308h11v1h-11zM314 308h17v1h-17zM396 308h12v1h-12zM161 309h6v1h-6zM259 309h11v1h-11zM331 309h8v1h-8zM385 309h11v1h-11zM167 310h6v1h-6zM179 310h80v1h-80zM339 310h46v1h-46zM173 311h6v1h-6z" fill="#00009b" shape-rendering="crispEdges"/>
<g shape-rendering="crispEdges">
<rect x="64" y="303" width="1" height="5" fill="#d6453a"/>
<rect x="71" y="305" width="1" height="3" fill="#d6453a"/>
<rect x="78" y="307" width="1" height="1" fill="#5ba554"/>
<rect x="85" y="307" width="1" height="3" fill="#5ba554"/>
<rect x="92" y="307" width="1" height="4" fill="#5ba554"/>
<rect x="99" y="307" width="1" height="8" fill="#5ba554"/>
<rect x="106" y="307" width="1" height="9" fill="#5ba554"/>
<rect x="113" y="307" width="1" height="10" fill="#5ba554"/>
<rect x="120" y="307" width="1" height="14" fill="#5ba554"/>
<rect x="127" y="307" width="1" height="17" fill="#5ba554"/>
<rect x="134" y="307" width="1" height="19" fill="#5ba554"/>
<rect x="141" y="307" width="1" height="19" fill="#5ba554"/>
<rect x="148" y="307" width="1" height="19" fill="#5ba554"/>
<rect x="155" y="307" width="1" height="17" fill="#5ba554"/>
<rect x="162" y="307" width="1" height="13" fill="#5ba554"/>
<rect x="169" y="307" width="1" height="8" fill="#5ba554"/>
<rect x="176" y="307" width="1" height="5" fill="#5ba554"/>
<rect x="183" y="305" width="1" height="3" fill="#d6453a"/>
<rect x="190" y="307" width="1" height="1" fill="#d6453a"/>
<rect x="197" y="307" width="1" height="1" fill="#5ba554"/>
<rect x="204" y="307" width="1" height="1" fill="#5ba554"/>
<rect x="211" y="307" width="1" height="1" fill="#5ba554"/>
<rect x="218" y="306" width="1" height="2" fill="#d6453a"/>
<rect x="225" y="306" width="1" height="2" fill="#d6453a"/>
<rect x="232" y="306" width="1" height="2" fill="#d6453a"/>
<rect x="239" y="306" width="1" height="2" fill="#d6453a"/>
<rect x="246" y="306" width="1" height="2" fill="#d6453a"/>
<rect x="253" y="306" width="1" height="2" fill="#d6453a"/>
<rect x="260" y="304" width="1" height="4" fill="#d6453a"/>
<rect x="267" y="303" width="1" height="5" fill="#d6453a"/>
<rect x="274" y="300" width="1" height="8" fill="#d6453a"/>
<rect x="281" y="301" width="1" height="7" fill="#d6453a"/>
<rect x="288" y="303" width="1" height="5" fill="#d6453a"/>
<rect x="295" y="305" width="1" height="3" fill="#d6453a"/>
<rect x="302" y="306" width="1" height="2" fill="#d6453a"/>
<rect x="309" y="307" width="1" height="4" fill="#5ba554"/>
<rect x="316" y="307" width="1" height="6" fill="#5ba554"/>
<rect x="323" y="307" width="1" height="5" fill="#5ba554"/>
<rect x="330" y="307" width="1" height="5" fill="#5ba554"/>
<rect x="337" y="307" width="1" height="5" fill="#5ba554"/>
<rect x="344" y="307" width="1" height="3" fill="#5ba554"/>
<rect x="351" y="307" width="1" height="3" fill="#5ba554"/>
<rect x="358" y="307" width="1" height="3" fill="#5ba554"/>
<rect x="365" y="307" width="1" height="2" fill="#5ba554"/>
<rect x="372" y="306" width="1" height="2" fill="#d6453a"/>
<rect x="379" y="304" width="1" height="4" fill="#d6453a"/>
<rect x="386" y="305" width="1" height="3" fill="#d6453a"/>
<rect x="393" y="304" width="1" height="4" fill="#d6453a"/>
<rect x="400" y="303" width="1" height="5" fill="#d6453a"/>
<rect x="407" y="303" width="1" height="5" fill="#d6453a"/>
<rect x="414" y="301" width="1" height="7" fill="#d6453a"/>
<rect x="421" y="302" width="1" height="6" fill="#d6453a"/>
<rect x="428" y="302" width="1" height="6" fill="#d6453a"/>
<rect x="435" y="301" width="1" height="7" fill="#d6453a"/>
<rect x="442" y="300" width="1" height="8" fill="#d6453a"/>
<rect x="449" y="300" width="1" height="8" fill="#d6453a"/>
<rect x="456" y="300" width="1" height="8" fill="#d6453a"/>
<rect x="463" y="300" width="1" height="8" fill="#d6453a"/>
<rect x="470" y="299" width="1" height="9" fill="#d6453a"/>
<rect x="477" y="299" width="1" height="9" fill="#d6453a"/>
<rect x="484" y="298" width="1" height="10" fill="#d6453a"/>
<rect x="491" y="300" width="1" height="8" fill="#d6453a"/>
<rect x="498" y="300" width="1" height="8" fill="#d6453a"/>
<rect x="505" y="302" width="1" height="6" fill="#d6453a"/>
<rect x="512" y="301" width="1" height="7" fill="#d6453a"/>
<rect x="519" y="301" width="1" height="7" fill="#d6453a"/>
<rect x="526" y="300" width="1" height="8" fill="#d6453a"/>
<rect x="533" y="300" width="1" height="8" fill="#d6453a"/>
<rect x="540" y="298" width="1" height="10" fill="#d6453a"/>
<rect x="547" y="299" width="1" height="9" fill="#d6453a"/>
<rect x="554" y="299" width="1" height="9" fill="#d6453a"/>
<rect x="561" y="298" width="1" height="10" fill="#d6453a"/>
<rect x="568" y="299" width="1" height="9" fill="#d6453a"/>
<rect x="575" y="299" width="1" height="9" fill="#d6453a"/>
<rect x="582" y="299" width="1" height="9" fill="#d6453a"/>
<rect x="589" y="302" width="1" height="6" fill="#d6453a"/>
<rect x="596" y="304" width="1" height="4" fill="#d6453a"/>
<rect x="603" y="304" width="1" height="4" fill="#d6453a"/>
<rect x="610" y="304" width="1" height="4" fill="#d6453a"/>
<rect x="617" y="305" width="1" height="3" fill="#d6453a"/>
<rect x="624" y="306" width="1" height="2" fill="#d6453a"/>
</g>
<path d="M232 349h8v1h-8zM274 349h1v1h-1zM470 349h1v1h-1zM231 350h1v1h-1zM240 350h1v1h-1zM273 350h1v1h-1zM275 350h1v1h-1zM469 350h1v1h-1zM471 350h1v1h-1zM230 351h1v1h-1zM240 351h1v1h-1zM272 351h1v1h-1zM275 351h1v1h-1zM468 351h1v1h-1zM471 351h1v1h-1zM230 352h1v1h-1zM241 352h1v1h-1zM272 352h1v1h-1zM276 352h1v1h-1zM468 352h1v1h-1zM472 352h1v1h-1zM229 353h1v1h-1zM241 353h1v1h-1zM271 353h1v1h-1zM276 353h1v1h-1zM467 353h1v1h-1zM472 353h1v1h-1zM229 354h1v1h-1zM242 354h1v1h-1zM271 354h1v1h-1zM277 354h1v1h-1zM467 354h1v1h-1zM473 354h1v1h-1zM228 355h1v1h-1zM243 355h1v1h-1zM270 355h1v1h-1zM278 355h1v1h-1zM466 355h1v1h-1zM474 355h1v1h-1zM227 356h1v1h-1zM243 356h1v1h-1zM269 356h1v1h-1zM278 356h1v1h-1zM465 356h1v1h-1zM474 356h1v1h-1zM227 357h1v1h-1zM244 357h1v1h-1zM269 357h1v1h-1zM279 357h1v1h-1zM465 357h1v1h-1zM475 357h1v1h-1zM226 358h1v1h-1zM244 358h1v1h-1zM268 358h1v1h-1zM279 358h1v1h-1zM464 358h1v1h-1zM475 358h1v1h-1zM226 359h1v1h-1zM245 359h1v1h-1zM268 359h1v1h-1zM280 359h1v1h-1zM464 359h1v1h-1zM476 359h1v1h-1zM225 360h1v1h-1zM245 360h1v1h-1zM267 360h1v1h-1zM280 360h1v1h-1zM463 360h1v1h-1zM476 360h1v1h-1zM64 361h1v1h-1zM218 361h8v1h-8zM246 361h22v1h-22zM281 361h1v1h-1zM442 361h1v1h-1zM463 361h1v1h-1zM477 361h8v1h-8zM533 361h8v1h-8zM561 361h1v1h-1zM575 361h29v1h-29zM65 362h1v1h-1zM217 362h1v1h-1zM282 362h1v1h-1zM441 362h1v1h-1zM443 362h1v1h-1zM462 362h1v1h-1zM485 362h1v1h-1zM532 362h1v1h-1zM541 362h1v1h-1zM560 362h1v1h-1zM562 362h1v1h-1zM574 362h1v1h-1zM604 362h1v1h-1zM65 363h1v1h-1zM216 363h1v1h-1zM282 363h1v1h-1zM440 363h1v1h-1zM443 363h1v1h-1zM461 363h1v1h-1zM485 363h1v1h-1zM531 363h1v1h-1zM541 363h1v1h-1zM559 363h1v1h-1zM562 363h1v1h-1zM573 363h1v1h-1zM604 363h1v1h-1zM66 364h1v1h-1zM216 364h1v1h-1zM283 364h1v1h-1zM440 364h1v1h-1zM444 364h1v1h-1zM461 364h1v1h-1zM486 364h1v1h-1zM531 364h1v1h-1zM542 364h1v1h-1zM559 364h1v1h-1zM563 364h1v1h-1zM573 364h1v1h-1zM605 364h1v1h-1zM66 365h1v1h-1zM215 365h1v1h-1zM283 365h1v1h-1zM439 365h1v1h-1zM444 365h1v1h-1zM460 365h1v1h-1zM486 365h1v1h-1zM530 365h1v1h-1zM542 365h1v1h-1zM558 365h1v1h-1zM563 365h1v1h-1zM572 365h1v1h-1zM605 365h1v1h-1zM67 366h1v1h-1zM215 366h1v1h-1zM284 366h1v1h-1zM439 366h1v1h-1zM445 366h1v1h-1zM460 366h1v1h-1zM487 366h1v1h-1zM530 366h1v1h-1zM543 366h1v1h-1zM558 366h1v1h-1zM564 366h1v1h-1zM572 366h1v1h-1zM606 366h1v1h-1zM68 367h1v1h-1zM214 367h1v1h-1zM285 367h1v1h-1zM438 367h1v1h-1zM446 367h1v1h-1zM459 367h1v1h-1zM488 367h1v1h-1zM529 367h1v1h-1zM544 367h1v1h-1zM557 367h1v1h-1zM565 367h1v1h-1zM571 367h1v1h-1zM607 367h1v1h-1zM68 368h1v1h-1zM213 368h1v1h-1zM285 368h1v1h-1zM437 368h1v1h-1zM446 368h1v1h-1zM458 368h1v1h-1zM488 368h1v1h-1zM528 368h1v1h-1zM544 368h1v1h-1zM556 368h1v1h-1zM565 368h1v1h-1zM570 368h1v1h-1zM607 368h1v1h-1zM69 369h1v1h-1zM213 369h1v1h-1zM286 369h1v1h-1zM437 369h1v1h-1zM447 369h1v1h-1zM458 369h1v1h-1zM489 369h1v1h-1zM528 369h1v1h-1zM545 369h1v1h-1zM556 369h1v1h-1zM566 369h1v1h-1zM570 369h1v1h-1zM608 369h1v1h-1zM69 370h1v1h-1zM212 370h1v1h-1zM286 370h1v1h-1zM436 370h1v1h-1zM447 370h1v1h-1zM457 370h1v1h-1zM489 370h1v1h-1zM527 370h1v1h-1zM545 370h1v1h-1zM555 370h1v1h-1zM566 370h1v1h-1zM569 370h1v1h-1zM608 370h1v1h-1zM70 371h1v1h-1zM212 371h1v1h-1zM287 371h1v1h-1zM436 371h1v1h-1zM448 371h1v1h-1zM457 371h1v1h-1zM490 371h1v1h-1zM527 371h1v1h-1zM546 371h1v1h-1zM555 371h1v1h-1zM567 371h1v1h-1zM569 371h1v1h-1zM609 371h1v1h-1zM70 372h1v1h-1zM211 372h1v1h-1zM287 372h1v1h-1zM435 372h1v1h-1zM448 372h1v1h-1zM456 372h1v1h-1zM490 372h1v1h-1zM526 372h1v1h-1zM546 372h1v1h-1zM554 372h1v1h-1zM567 372h2v1h-2zM609 372h1v1h-1zM71 373h1v1h-1zM211 373h1v1h-1zM288 373h8v1h-8zM414 373h1v1h-1zM435 373h1v1h-1zM449 373h8v1h-8zM491 373h36v1h-36zM547 373h8v1h-8zM568 373h1v1h-1zM610 373h8v1h-8zM72 374h1v1h-1zM210 374h1v1h-1zM296 374h1v1h-1zM413 374h1v1h-1zM415 374h1v1h-1zM434 374h1v1h-1zM618 374h1v1h-1zM72 375h1v1h-1zM209 375h1v1h-1zM296 375h1v1h-1zM412 375h1v1h-1zM415 375h1v1h-1zM433 375h1v1h-1zM618 375h1v1h-1zM73 376h1v1h-1zM209 376h1v1h-1zM297 376h1v1h-1zM412 376h1v1h-1zM416 376h1v1h-1zM433 376h1v1h-1zM619 376h1v1h-1zM73 377h1v1h-1zM208 377h1v1h-1zM297 377h1v1h-1zM411 377h1v1h-1zM416 377h1v1h-1zM432 377h1v1h-1zM619 377h1v1h-1zM74 378h1v1h-1zM208 378h1v1h-1zM298 378h1v1h-1zM411 378h1v1h-1zM417 378h1v1h-1zM432 378h1v1h-1zM620 378h1v1h-1zM75 379h1v1h-1zM207 379h1v1h-1zM299 379h1v1h-1zM410 379h1v1h-1zM418 379h1v1h-1zM431 379h1v1h-1zM621 379h1v1h-1zM75 380h1v1h-1zM206 380h1v1h-1zM299 380h1v1h-1zM409 380h1v1h-1zM418 380h1v1h-1zM430 380h1v1h-1zM621 380h1v1h-1zM76 381h1v1h-1zM206 381h1v1h-1zM300 381h1v1h-1zM409 381h1v1h-1zM419 381h1v1h-1zM430 381h1v1h-1zM622 381h1v1h-1zM76 382h1v1h-1zM205 382h1v1h-1zM300 382h1v1h-1zM408 382h1v1h-1zM419 382h1v1h-1zM429 382h1v1h-1zM622 382h1v1h-1zM77 383h1v1h-1zM205 383h1v1h-1zM301 383h1v1h-1zM408 383h1v1h-1zM420 383h1v1h-1zM429 383h1v1h-1zM623 383h1v1h-1zM77 384h1v1h-1zM204 384h1v1h-1zM301 384h1v1h-1zM407 384h1v1h-1zM420 384h1v1h-1zM428 384h1v1h-1zM623 384h1v1h-1zM78 385h36v1h-36zM204 385h1v1h-1zM302 385h43v1h-43zM372 385h1v1h-1zM393 385h15v1h-15zM421 385h8v1h-8zM624 385h1v1h-1zM114 386h1v1h-1zM203 386h1v1h-1zM345 386h1v1h-1zM371 386h1v1h-1zM373 386h1v1h-1zM392 386h1v1h-1zM114 387h1v1h-1zM202 387h1v1h-1zM345 387h1v1h-1zM370 387h1v1h-1zM373 387h1v1h-1zM391 387h1v1h-1zM115 388h1v1h-1zM202 388h1v1h-1zM346 388h1v1h-1zM370 388h1v1h-1zM374 388h1v1h-1zM391 388h1v1h-1zM115 389h1v1h-1zM201 389h1v1h-1zM346 389h1v1h-1zM369 389h1v1h-1zM374 389h1v1h-1zM390 389h1v1h-1zM116 390h1v1h-1zM201 390h1v1h-1zM347 390h1v1h-1zM369 390h1v1h-1zM375 390h1v1h-1zM390 390h1v1h-1zM117 391h1v1h-1zM200 391h1v1h-1zM348 391h1v1h-1zM368 391h1v1h-1zM376 391h1v1h-1zM389 391h1v1h-1zM117 392h1v1h-1zM199 392h1v1h-1zM348 392h1v1h-1zM367 392h1v1h-1zM376 392h1v1h-1zM388 392h1v1h-1zM118 393h1v1h-1zM199 393h1v1h-1zM349 393h1v1h-1zM367 393h1v1h-1zM377 393h1v1h-1zM388 393h1v1h-1zM118 394h1v1h-1zM198 394h1v1h-1zM349 394h1v1h-1zM366 394h1v1h-1zM377 394h1v1h-1zM387 394h1v1h-1zM119 395h1v1h-1zM198 395h1v1h-1zM350 395h1v1h-1zM366 395h1v1h-1zM378 395h1v1h-1zM387 395h1v1h-1zM119 396h1v1h-1zM197 396h1v1h-1zM350 396h1v1h-1zM365 396h1v1h-1zM378 396h1v1h-1zM386 396h1v1h-1zM120 397h1v1h-1zM183 397h1v1h-1zM197 397h1v1h-1zM351 397h1v1h-1zM365 397h1v1h-1zM379 397h8v1h-8zM121 398h1v1h-1zM182 398h1v1h-1zM184 398h1v1h-1zM196 398h1v1h-1zM352 398h1v1h-1zM364 398h1v1h-1zM121 399h1v1h-1zM181 399h1v1h-1zM184 399h1v1h-1zM195 399h1v1h-1zM352 399h1v1h-1zM363 399h1v1h-1zM122 400h1v1h-1zM181 400h1v1h-1zM185 400h1v1h-1zM195 400h1v1h-1zM353 400h1v1h-1zM363 400h1v1h-1zM122 401h1v1h-1zM180 401h1v1h-1zM185 401h1v1h-1zM194 401h1v1h-1zM353 401h1v1h-1zM362 401h1v1h-1zM123 402h1v1h-1zM180 402h1v1h-1zM186 402h1v1h-1zM194 402h1v1h-1zM354 402h1v1h-1zM362 402h1v1h-1zM124 403h1v1h-1zM179 403h1v1h-1zM187 403h1v1h-1zM193 403h1v1h-1zM355 403h1v1h-1zM361 403h1v1h-1zM124 404h1v1h-1zM178 404h1v1h-1zM187 404h1v1h-1zM192 404h1v1h-1zM355 404h1v1h-1zM360 404h1v1h-1zM125 405h1v1h-1zM178 405h1v1h-1zM188 405h1v1h-1zM192 405h1v1h-1zM356 405h1v1h-1zM360 405h1v1h-1zM125 406h1v1h-1zM177 406h1v1h-1zM188 406h1v1h-1zM191 406h1v1h-1zM356 406h1v1h-1zM359 406h1v1h-1zM126 407h1v1h-1zM177 407h1v1h-1zM189 407h1v1h-1zM191 407h1v1h-1zM357 407h1v1h-1zM359 407h1v1h-1zM126 408h1v1h-1zM176 408h1v1h-1zM189 408h2v1h-2zM357 408h2v1h-2zM127 409h8v1h-8zM162 409h15v1h-15zM190 409h1v1h-1zM358 409h1v1h-1zM135 410h1v1h-1zM161 410h1v1h-1zM135 411h1v1h-1zM160 411h1v1h-1zM136 412h1v1h-1zM160 412h1v1h-1zM136 413h1v1h-1zM159 413h1v1h-1zM137 414h1v1h-1zM159 414h1v1h-1zM138 415h1v1h-1zM158 415h1v1h-1zM138 416h1v1h-1zM157 416h1v1h-1zM139 417h1v1h-1zM157 417h1v1h-1zM139 418h1v1h-1zM156 418h1v1h-1zM140 419h1v1h-1zM156 419h1v1h-1zM141 420h1v1h-1zM155 420h1v1h-1zM141 421h1v1h-1zM154 421h1v1h-1zM142 422h1v1h-1zM154 422h1v1h-1zM142 423h1v1h-1zM153 423h1v1h-1zM143 424h1v1h-1zM153 424h1v1h-1zM143 425h1v1h-1zM152 425h1v1h-1zM144 426h1v1h-1zM152 426h1v1h-1zM145 427h1v1h-1zM151 427h1v1h-1zM145 428h1v1h-1zM150 428h1v1h-1zM146 429h1v1h-1zM150 429h1v1h-1zM146 430h1v1h-1zM149 430h1v1h-1zM147 431h1v1h-1zM149 431h1v1h-1zM148 432h1v1h-1z" fill="#000" shape-rendering="crispEdges"/>
<path d="M250 357h28v1h-28zM247 358h3v1h-3zM278 358h3v1h-3zM245 359h2v1h-2zM281 359h4v1h-4zM243 360h2v1h-2zM285 360h3v1h-3zM241 361h2v1h-2zM288 361h4v1h-4zM240 362h1v1h-1zM292 362h3v1h-3zM239 363h1v1h-1zM295 363h2v1h-2zM474 363h28v1h-28zM593 363h21v1h-21zM238 364h1v1h-1zM297 364h2v1h-2zM471 364h3v1h-3zM502 364h3v1h-3zM590 364h3v1h-3zM614 364h3v1h-3zM237 365h1v1h-1zM299 365h2v1h-2zM469 365h2v1h-2zM505 365h2v1h-2zM586 365h4v1h-4zM617 365h2v1h-2zM236 366h1v1h-1zM301 366h1v1h-1zM468 366h1v1h-1zM507 366h2v1h-2zM583 366h3v1h-3zM619 366h2v1h-2zM235 367h1v1h-1zM302 367h2v1h-2zM467 367h1v1h-1zM509 367h2v1h-2zM558 367h25v1h-25zM621 367h2v1h-2zM234 368h1v1h-1zM304 368h2v1h-2zM466 368h1v1h-1zM511 368h1v1h-1zM555 368h3v1h-3zM623 368h1v1h-1zM68 369h7v1h-7zM233 369h1v1h-1zM306 369h2v1h-2zM465 369h1v1h-1zM512 369h4v1h-4zM537 369h18v1h-18zM624 369h1v1h-1zM65 370h3v1h-3zM75 370h3v1h-3zM232 370h1v1h-1zM308 370h1v1h-1zM464 370h1v1h-1zM516 370h3v1h-3zM534 370h3v1h-3zM64 371h1v1h-1zM78 371h2v1h-2zM232 371h1v1h-1zM309 371h2v1h-2zM462 371h2v1h-2zM519 371h4v1h-4zM530 371h4v1h-4zM80 372h2v1h-2zM231 372h1v1h-1zM311 372h1v1h-1zM460 372h2v1h-2zM523 372h3v1h-3zM527 372h3v1h-3zM82 373h2v1h-2zM230 373h1v1h-1zM312 373h1v1h-1zM458 373h2v1h-2zM526 373h1v1h-1zM84 374h1v1h-1zM229 374h1v1h-1zM313 374h1v1h-1zM457 374h1v1h-1zM85 375h4v1h-4zM229 375h1v1h-1zM314 375h1v1h-1zM446 375h11v1h-11zM89 376h3v1h-3zM228 376h1v1h-1zM315 376h1v1h-1zM443 376h3v1h-3zM92 377h4v1h-4zM227 377h1v1h-1zM316 377h2v1h-2zM441 377h2v1h-2zM96 378h3v1h-3zM227 378h1v1h-1zM318 378h2v1h-2zM439 378h2v1h-2zM99 379h2v1h-2zM226 379h1v1h-1zM320 379h2v1h-2zM437 379h2v1h-2zM101 380h2v1h-2zM225 380h1v1h-1zM322 380h1v1h-1zM436 380h1v1h-1zM103 381h2v1h-2zM224 381h2v1h-2zM323 381h4v1h-4zM432 381h4v1h-4zM105 382h1v1h-1zM223 382h1v1h-1zM327 382h3v1h-3zM429 382h3v1h-3zM106 383h4v1h-4zM222 383h1v1h-1zM330 383h4v1h-4zM425 383h4v1h-4zM110 384h3v1h-3zM221 384h1v1h-1zM334 384h3v1h-3zM422 384h3v1h-3zM113 385h4v1h-4zM220 385h1v1h-1zM337 385h11v1h-11zM418 385h4v1h-4zM117 386h3v1h-3zM219 386h1v1h-1zM348 386h3v1h-3zM415 386h3v1h-3zM120 387h2v1h-2zM218 387h1v1h-1zM351 387h2v1h-2zM411 387h4v1h-4zM122 388h2v1h-2zM217 388h1v1h-1zM353 388h2v1h-2zM408 388h3v1h-3zM124 389h2v1h-2zM216 389h1v1h-1zM355 389h2v1h-2zM404 389h4v1h-4zM126 390h1v1h-1zM215 390h1v1h-1zM357 390h1v1h-1zM401 390h3v1h-3zM127 391h2v1h-2zM214 391h1v1h-1zM358 391h4v1h-4zM399 391h2v1h-2zM129 392h2v1h-2zM213 392h1v1h-1zM362 392h3v1h-3zM397 392h2v1h-2zM131 393h2v1h-2zM212 393h1v1h-1zM365 393h11v1h-11zM395 393h2v1h-2zM133 394h1v1h-1zM211 394h1v1h-1zM376 394h3v1h-3zM394 394h1v1h-1zM134 395h2v1h-2zM210 395h2v1h-2zM379 395h4v1h-4zM390 395h4v1h-4zM136 396h1v1h-1zM209 396h1v1h-1zM383 396h3v1h-3zM387 396h3v1h-3zM137 397h1v1h-1zM208 397h1v1h-1zM386 397h1v1h-1zM138 398h1v1h-1zM207 398h1v1h-1zM139 399h1v1h-1zM206 399h1v1h-1zM140 400h1v1h-1zM205 400h1v1h-1zM141 401h1v1h-1zM203 401h2v1h-2zM142 402h1v1h-1zM201 402h2v1h-2zM143 403h1v1h-1zM199 403h2v1h-2zM144 404h1v1h-1zM198 404h1v1h-1zM145 405h1v1h-1zM196 405h2v1h-2zM146 406h1v1h-1zM194 406h2v1h-2zM147 407h1v1h-1zM192 407h2v1h-2zM147 408h1v1h-1zM191 408h1v1h-1zM148 409h2v1h-2zM189 409h2v1h-2zM150 410h1v1h-1zM187 410h2v1h-2zM151 411h1v1h-1zM185 411h2v1h-2zM152 412h1v1h-1zM184 412h1v1h-1zM153 413h1v1h-1zM182 413h2v1h-2zM154 414h1v1h-1zM180 414h2v1h-2zM155 415h4v1h-4zM178 415h2v1h-2zM159 416h19v1h-19z" fill="#00009b" shape-rendering="crispEdges"/>
<g font-size="29.6" letter-spacing="2.9">
<text x="585" y="426.6" fill="#d2b9a3" opacity="0.9">FX678</text>
<text x="583.8" y="425.5" fill="#d0e0f4">FX678</text>
</g>
<text x="56.7" y="24" font-size="12" font-weight="normal" fill="#1f2233" text-anchor="end" textLength="43.6" lengthAdjust="spacingAndGlyphs">3004.88</text>
<text x="660.4" y="24" font-size="12" font-weight="normal" fill="#1f2233" text-anchor="start" textLength="43.6" lengthAdjust="spacingAndGlyphs">3004.88</text>
<text x="56.7" y="84.3" font-size="12" font-weight="normal" fill="#1f2233" text-anchor="end" textLength="43.6" lengthAdjust="spacingAndGlyphs">2844.32</text>
<text x="660.4" y="84.3" font-size="12" font-weight="normal" fill="#1f2233" text-anchor="start" textLength="43.6" lengthAdjust="spacingAndGlyphs">2844.32</text>
<text x="56.7" y="145.3" font-size="12" font-weight="normal" fill="#1f2233" text-anchor="end" textLength="43.6" lengthAdjust="spacingAndGlyphs">2683.75</text>
<text x="660.4" y="145.3" font-size="12" font-weight="normal" fill="#1f2233" text-anchor="start" textLength="43.6" lengthAdjust="spacingAndGlyphs">2683.75</text>
<text x="56.7" y="205.3" font-size="12" font-weight="normal" fill="#1f2233" text-anchor="end" textLength="43.6" lengthAdjust="spacingAndGlyphs">2523.19</text>
<text x="660.4" y="205.3" font-size="12" font-weight="normal" fill="#1f2233" text-anchor="start" textLength="43.6" lengthAdjust="spacingAndGlyphs">2523.19</text>
<text x="56.7" y="287.3" font-size="12" font-weight="normal" fill="#1f2233" text-anchor="end">59.37</text>
<text x="660.4" y="287.2" font-size="12" font-weight="normal" fill="#1f2233" text-anchor="start">59.37</text>
<text x="56.7" y="351.7" font-size="12" font-weight="normal" fill="#1f2233" text-anchor="end">83.33</text>
<text x="660.5" y="351.7" font-size="12" font-weight="normal" fill="#1f2233" text-anchor="start">83.33</text>
<text x="56.7" y="379.9" font-size="12" font-weight="normal" fill="#1f2233" text-anchor="end">63.89</text>
<text x="660.5" y="379.9" font-size="12" font-weight="normal" fill="#1f2233" text-anchor="start">63.89</text>
<text x="56.7" y="409.3" font-size="12" font-weight="normal" fill="#1f2233" text-anchor="end">44.44</text>
<text x="660.5" y="409.3" font-size="12" font-weight="normal" fill="#1f2233" text-anchor="start">44.44</text>
<rect x="657.5" y="46.5" width="60" height="17" fill="#fff" stroke="#ff8000" shape-rendering="crispEdges"/>
<text x="660.6" y="59.5" font-size="12" font-weight="normal" fill="#ff8000" text-anchor="start" textLength="43.6" lengthAdjust="spacingAndGlyphs">2938.47</text>
<text x="62" y="13.2" font-size="12" font-weight="bold" fill="#0a0a0a" text-anchor="start" textLength="48" lengthAdjust="spacingAndGlyphs" style="font-family:'Liberation Sans','Noto Sans CJK SC',sans-serif">现货黄金</text>
<text x="109.2" y="13.2" font-size="12" font-weight="normal" fill="#ff8000" text-anchor="start" textLength="48" lengthAdjust="spacingAndGlyphs" style="font-family:'Liberation Sans','Noto Sans CJK SC',sans-serif">【日线】</text>
<g fill="none" stroke="#ff8c1a" stroke-width="0.9"><circle cx="162.8" cy="10.6" r="3.8"/><path d="M159 10.6H166.6M162.8 6.8V14.4"/></g>
<g shape-rendering="crispEdges"><rect x="176" y="1" width="12" height="13" fill="#9a9a9a"/><rect x="175.5" y="0.5" width="11" height="12" fill="#fff" stroke="#000080"/></g>
<polyline points="176.3,7.4 179.5,3.2 181.2,6 184.4,3.9 186.1,4.2" fill="none" stroke="#f00" stroke-width="1.1"/>
<polyline points="176.3,10.5 179.5,6.3 181.9,9.5 184.7,7 186.1,7" fill="none" stroke="#00f" stroke-width="1.1"/>
<text x="190.7" y="13" font-size="12" font-weight="normal" fill="#111" text-anchor="start" textLength="132" lengthAdjust="spacingAndGlyphs">MA(5,10,30,60,100,200)</text>
<text x="328.5" y="13" font-size="12" font-weight="normal" fill="#111" text-anchor="start" textLength="73.4" lengthAdjust="spacingAndGlyphs">MA5:2928.94</text>
<text x="412" y="13" font-size="12" font-weight="normal" fill="#00009b" text-anchor="start" textLength="80.7" lengthAdjust="spacingAndGlyphs">MA10:2916.52</text>
<text x="501.6" y="13" font-size="12" font-weight="normal" fill="#ff00ff" text-anchor="start" textLength="19" lengthAdjust="spacingAndGlyphs">MA</text>
<g shape-rendering="crispEdges" fill="none" stroke="#1a78d2">
<rect x="594.5" y="0.5" width="13" height="13" fill="#fff"/>
<rect x="610.5" y="0.5" width="13" height="13" fill="#fff"/>
<rect x="626.5" y="0.5" width="13" height="13" fill="#fff"/>
<rect x="642.5" y="0.5" width="13" height="13" fill="#fff"/>
</g>
<g fill="#1a78d2" shape-rendering="crispEdges"><rect x="600" y="2" width="2" height="3"/><rect x="600" y="9" width="2" height="3"/><rect x="596" y="6" width="3" height="2"/><rect x="603" y="6" width="3" height="2"/><rect x="600" y="6" width="2" height="2"/></g>
<g fill="none" stroke="#1a78d2" shape-rendering="crispEdges"><path d="M613.5 2V11M612 10.5H622" stroke-width="1"/></g>
<g fill="#1a78d2"><path d="M613.5 1.5l-1.8 2.5h3.6zM622.8 10.5l-2.5-1.8v3.6z"/><rect x="616" y="3" width="1.3" height="5.5"/><path d="M621 3v5.5l-3.2-2.75z"/></g>
<g fill="none" stroke="#1a78d2" shape-rendering="crispEdges"><path d="M629.5 2V11M628 10.5H638" stroke-width="1"/></g>
<g fill="#1a78d2"><path d="M629.5 1.5l-1.8 2.5h3.6zM638.8 10.5l-2.5-1.8v3.6z"/><rect x="632" y="3" width="1.3" height="5.5"/><path d="M633.5 3v5.5l3.8-2.75z"/></g>
<g fill="none" stroke="#1a78d2" shape-rendering="crispEdges"><rect x="644.5" y="2.5" width="3" height="9"/></g>
<g fill="#1a78d2"><rect x="647" y="6" width="5" height="2"/><path d="M654.6 7l-3.4-3v6z"/></g>
<text x="63" y="276" font-size="12" font-weight="normal" fill="#111" text-anchor="start" textLength="84.6" lengthAdjust="spacingAndGlyphs">MACD(26,12,9)</text>
<text x="152.8" y="276" font-size="12" font-weight="normal" fill="#111" text-anchor="start" textLength="57.3" lengthAdjust="spacingAndGlyphs">DIFF:56.33</text>
<text x="220" y="276" font-size="12" font-weight="normal" fill="#00009b" text-anchor="start" textLength="56" lengthAdjust="spacingAndGlyphs">DEA:54.92</text>
<text x="285.8" y="276" font-size="12" font-weight="normal" fill="#ff00ff" text-anchor="start" textLength="61.5" lengthAdjust="spacingAndGlyphs">MACD:2.82</text>
<text x="62.4" y="340.6" font-size="12" font-weight="normal" fill="#111" text-anchor="start" textLength="51.5" lengthAdjust="spacingAndGlyphs">PSY(12,6)</text>
<text x="119.8" y="340.6" font-size="12" font-weight="normal" fill="#111" text-anchor="start" textLength="53.6" lengthAdjust="spacingAndGlyphs">PSY:58.33</text>
<text x="182.2" y="340.6" font-size="12" font-weight="normal" fill="#00009b" text-anchor="start" textLength="74.6" lengthAdjust="spacingAndGlyphs">PSYMA:69.44</text>
<text x="80.5" y="447" font-size="12" font-weight="bold" fill="#1f2233" text-anchor="start" textLength="43.6" lengthAdjust="spacingAndGlyphs">2024/11</text>
<text x="227.5" y="447" font-size="12" font-weight="bold" fill="#1f2233" text-anchor="start" textLength="43.6" lengthAdjust="spacingAndGlyphs">2024/12</text>
<text x="374.5" y="447" font-size="12" font-weight="bold" fill="#1f2233" text-anchor="start" textLength="43.6" lengthAdjust="spacingAndGlyphs">2025/01</text>
<text x="528.5" y="447" font-size="12" font-weight="bold" fill="#1f2233" text-anchor="start" textLength="43.6" lengthAdjust="spacingAndGlyphs">2025/02</text>
<text x="3.5" y="450.2" font-size="13" font-weight="bold" fill="#ff8000" text-anchor="start" textLength="26" lengthAdjust="spacingAndGlyphs" style="font-family:'Liberation Sans','Noto Sans CJK SC',sans-serif">日线</text>
<path d="M34.4 449.2L38.8 440.4L43.2 449.2Z" fill="#ff8000"/>
<g fill="none"><circle cx="-0.5" cy="333.7" r="3.1" stroke="#000" stroke-width="1"/><circle cx="0" cy="333.7" r="0.9" fill="#f00"/><path d="M3.2 329.6L5 328.2M4 333.7H6M3.2 337.8L5 339.2" stroke="#f00" stroke-width="1"/></g>
</svg>
</body></html>
